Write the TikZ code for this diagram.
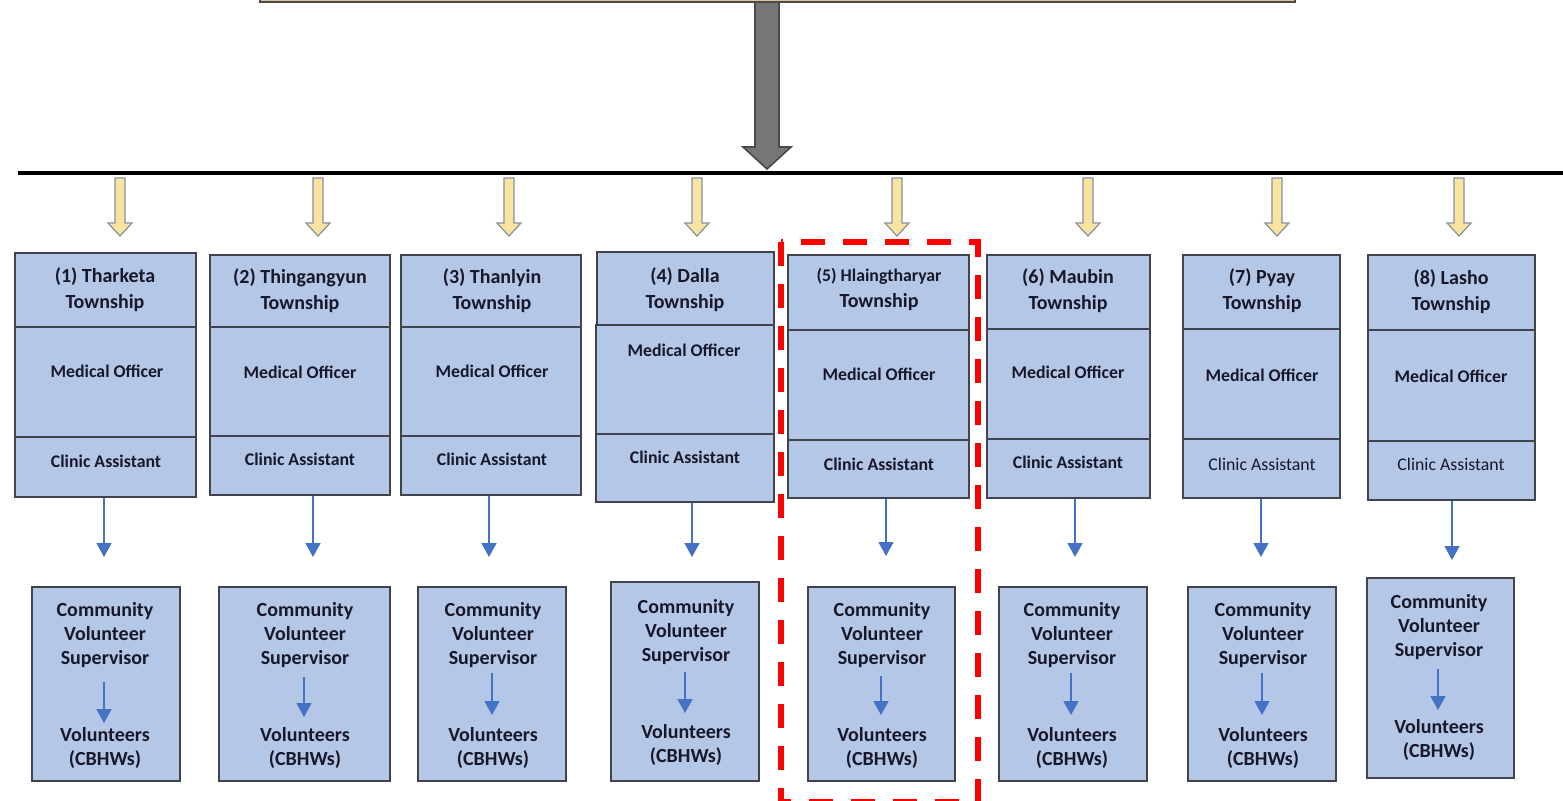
\documentclass[tikz,border=0pt]{standalone}
\usepackage{fontspec}
\setmainfont{Carlito}
\usetikzlibrary{fit,arrows.meta}
\definecolor{boxblue}{HTML}{B4C7E7}
\definecolor{boxline}{HTML}{41444C}
\definecolor{txt}{HTML}{18182A}
\definecolor{arrblue}{HTML}{4472C4}
\definecolor{yfill}{HTML}{F8E3A0}
\definecolor{yline}{HTML}{8A8F9E}
\definecolor{gfill}{HTML}{767676}
\definecolor{gline}{HTML}{4A4A4A}
\definecolor{topfill}{HTML}{D8C79A}
\definecolor{hired}{HTML}{FF0000}
\begin{document}
\begin{tikzpicture}[x=0.5pt,y=-0.5pt,
  box/.style={draw=boxline, fill=boxblue, line width=1pt, inner sep=0pt},
  hdr/.style={font=\bfseries\fontsize{10}{13}\selectfont, align=center, text=txt, inner sep=0pt},
  role/.style={font=\bfseries\fontsize{8.9}{11}\selectfont, text=txt, inner sep=0pt},
  rolelt/.style={font=\fontsize{8.9}{11}\selectfont, text=txt, inner sep=0pt},
  vol/.style={font=\bfseries\fontsize{10}{12}\selectfont, align=center, text=txt, inner sep=0pt},
  barrow/.style={draw=arrblue, line width=0.8pt, -{Triangle[width=7.5pt,length=7pt]}},
  yarr/.style={draw=yline, fill=yfill, line width=0.6pt},
  garr/.style={draw=gline, fill=gfill, line width=0.8pt},
  frame/.style={draw=hired, line width=3pt, dash pattern=on 12pt off 9pt},
]
\useasboundingbox (0,0) rectangle (1563,800);

% top box (cut off)
\node[draw=gline, fill=topfill, line width=1pt, inner sep=0pt, fit={(260,-40) (1295,2)}] (top) {};

% big gray arrow
\draw[garr] (755,2) -- (779,2) -- (779,147) -- (791,147) -- (767,169) -- (743,147) -- (755,147) -- cycle;

% horizontal bar
\coordinate (barL) at (18,173);
\coordinate (barR) at (1565,173);
\draw[line width=1.6pt] (barL) -- (barR);

% yellow arrows
\foreach \x in {120,318,509,697,897,1088,1277,1459}
  \draw[yarr] (\x-5,178) -- (\x+5,178) -- (\x+5,223) -- (\x+12,223) -- (\x,236) -- (\x-12,223) -- (\x-5,223) -- cycle;

% ---------- township stacks ----------
% 1
\node[box, fit={(15,253) (196,327)}] (h1) {};
\node[box, fit={(15,327) (196,437)}] (m1) {};
\node[box, fit={(15,437) (196,497)}] (c1) {};
\node[hdr] (t1) at (105,290) {(1) Tharketa\\Township};
\node[role] (mo1) at (107,371) {Medical Officer};
\node[role] (ca1) at (106,461) {Clinic Assistant};
% 2
\node[box, fit={(210,255) (390,327)}] (h2) {};
\node[box, fit={(210,327) (390,436)}] (m2) {};
\node[box, fit={(210,436) (390,495)}] (c2) {};
\node[hdr] (t2) at (300,291) {(2) Thingangyun\\Township};
\node[role] (mo2) at (300,372) {Medical Officer};
\node[role] (ca2) at (300,459) {Clinic Assistant};
% 3
\node[box, fit={(401,255) (581,327)}] (h3) {};
\node[box, fit={(401,327) (581,436)}] (m3) {};
\node[box, fit={(401,436) (581,495)}] (c3) {};
\node[hdr] (t3) at (492,291) {(3) Thanlyin\\Township};
\node[role] (mo3) at (492,371) {Medical Officer};
\node[role] (ca3) at (492,459) {Clinic Assistant};
% 4
\node[box, fit={(597,252) (774,325)}] (h4) {};
\node[box, fit={(596,325) (774,434)}] (m4) {};
\node[box, fit={(596,434) (774,502)}] (c4) {};
\node[hdr] (t4) at (685,290) {(4) Dalla\\Township};
\node[role] (mo4) at (684,350) {Medical Officer};
\node[role] (ca4) at (685,457) {Clinic Assistant};
% 5
\node[box, fit={(788,255) (969,330)}] (h5) {};
\node[box, fit={(788,330) (969,440)}] (m5) {};
\node[box, fit={(788,440) (969,498)}] (c5) {};
\node[hdr] (t5) at (879,289) {{\fontsize{8.9}{13}\selectfont (5) Hlaingtharyar}\\Township};
\node[role] (mo5) at (879,374) {Medical Officer};
\node[role] (ca5) at (879,464) {Clinic Assistant};
% 6
\node[box, fit={(987,255) (1150,329)}] (h6) {};
\node[box, fit={(987,329) (1150,439)}] (m6) {};
\node[box, fit={(987,439) (1150,498)}] (c6) {};
\node[hdr] (t6) at (1068,291) {(6) Maubin\\Township};
\node[role] (mo6) at (1068,372) {Medical Officer};
\node[role] (ca6) at (1068,462) {Clinic Assistant};
% 7
\node[box, fit={(1183,255) (1340,329)}] (h7) {};
\node[box, fit={(1183,329) (1340,439)}] (m7) {};
\node[box, fit={(1183,439) (1340,498)}] (c7) {};
\node[hdr] (t7) at (1262,291) {(7) Pyay\\Township};
\node[role] (mo7) at (1262,375) {Medical Officer};
\node[rolelt] (ca7) at (1262,464) {Clinic Assistant};
% 8
\node[box, fit={(1368,255) (1535,330)}] (h8) {};
\node[box, fit={(1368,330) (1535,441)}] (m8) {};
\node[box, fit={(1368,441) (1535,500)}] (c8) {};
\node[hdr] (t8) at (1451,292) {(8) Lasho\\Township};
\node[role] (mo8) at (1451,376) {Medical Officer};
\node[rolelt] (ca8) at (1451,464) {Clinic Assistant};

% ---------- blue arrows to volunteer boxes ----------
\foreach \i/\x/\y in {1/104/557, 2/313/557, 3/489/557, 4/692/557, 5/886/556, 6/1075/557, 7/1261/557, 8/1452/560} {
  \coordinate (a\i) at (\x,\y);
  \draw[barrow] (c\i.south -| a\i) -- (a\i);
}

% ---------- volunteer boxes ----------
\foreach \i/\xl/\yt/\xr/\yb/\xt/\dy/\ya/\yz in {
  1/32/587/180/781/105/0/682/723,
  2/219/587/390/781/305/0/677/717,
  3/418/587/566/781/493/0/673/715,
  4/611/582/759/781/686/-3/672/713,
  5/808/587/955/781/882/0/676/715,
  6/999/587/1147/781/1072/0/673/715,
  7/1188/587/1336/781/1263/0/673/715,
  8/1367/578/1514/778/1439/-8/669/710} {
  \node[box, fit={(\xl,\yt) (\xr,\yb)}] (b\i) {};
  \node[vol] (s\i) at (\xt,635+\dy) {Community\\Volunteer\\Supervisor};
  \node[vol] (v\i) at (\xt,748+\dy) {Volunteers\\(CBHWs)};
  \coordinate (ia\i) at (\xt-1,\ya);
  \coordinate (ib\i) at (\xt-1,\yz);
  \draw[barrow] (ia\i) -- (ib\i);
}

% red highlight frame
\draw[frame] (781,242) rectangle (978,802);
\end{tikzpicture}
\end{document}
